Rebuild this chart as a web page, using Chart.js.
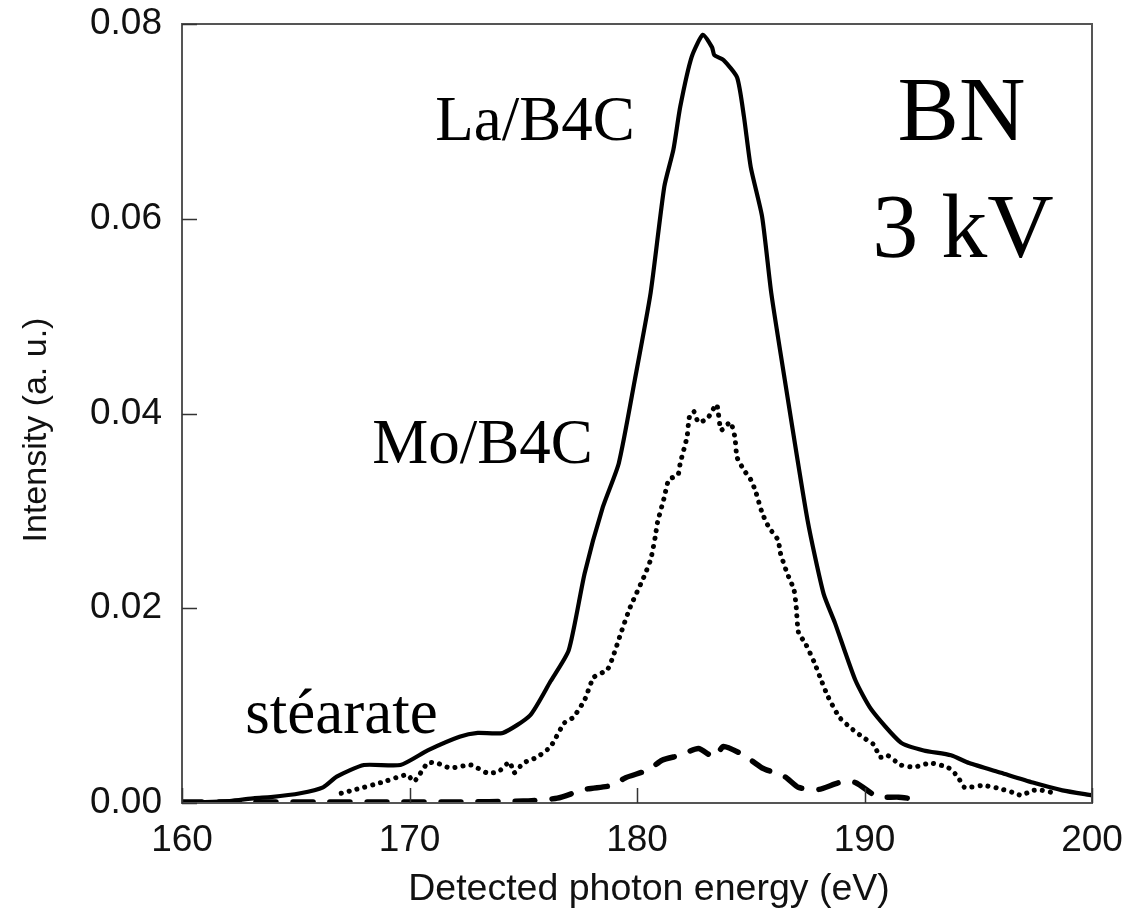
<!DOCTYPE html>
<html>
<head>
<meta charset="utf-8">
<script src="https://cdn.jsdelivr.net/npm/chart.js@4.4.1/dist/chart.umd.min.js"></script>
<style>
html,body{margin:0;padding:0;background:#fff;}
#wrap{width:1126px;height:920px;}
</style>
</head>
<body>
<div id="wrap"><canvas id="c" width="1126" height="920"></canvas></div>
<script>
// ---- data ----
const laX = [160, 161, 162.1, 163.2, 163.9, 165.2, 166.2, 166.8, 168.0, 169.6, 170.8, 172.2, 173.0, 174.1, 175.3, 176.2, 177.0, 177.7, 178.5, 179.2, 179.9, 180.6, 181.2, 181.6, 181.9, 182.4, 182.9, 183.3, 183.4, 183.8, 184.4, 184.7, 185.0, 185.5, 185.9, 186.5, 187.5, 188.2, 188.7, 189.6, 190.3, 191.6, 192.6, 193.8, 194.6, 196.0, 197.4, 198.7, 200];
const laY = [0.0001, 0.0001, 0.0002, 0.0005, 0.0006, 0.001, 0.0016, 0.0027, 0.0039, 0.0039, 0.0054, 0.0068, 0.0072, 0.0072, 0.009, 0.0125, 0.0157, 0.0236, 0.0304, 0.0349, 0.0434, 0.0524, 0.0633, 0.0671, 0.0715, 0.0766, 0.0789, 0.0776, 0.0768, 0.0763, 0.0745, 0.0705, 0.0653, 0.0602, 0.0524, 0.0434, 0.029, 0.0215, 0.0185, 0.0126, 0.0096, 0.0062, 0.0054, 0.0049, 0.0041, 0.0031, 0.0021, 0.0013, 0.0008];

const moX = [167.0, 167.5, 168.9, 169.9, 170.2, 170.8, 171.2, 171.8, 172.7, 173.4, 173.9, 174.4, 174.6, 175.0, 175.6, 176.2, 176.8, 177.2, 177.7, 178.1, 178.7, 179.0, 179.3, 179.7, 180.3, 180.6, 180.8, 180.9, 181.2, 181.4, 181.8, 181.9, 182.2, 182.3, 182.5, 182.7, 183.1, 183.5, 183.7, 184.1, 184.3, 184.4, 184.7, 185.0, 185.2, 185.5, 185.8, 186.2, 186.3, 186.6, 186.9, 187.0, 187.1, 187.4, 187.8, 188.1, 188.4, 188.9, 189.4, 189.9, 190.4, 190.7, 191.0, 191.6, 192.2, 192.9, 193.7, 194.1, 194.4, 195.2, 195.9, 196.5, 196.9, 197.4, 197.8, 198.4];
const moY = [0.001, 0.0013, 0.0022, 0.0029, 0.0022, 0.0041, 0.0041, 0.0036, 0.0039, 0.0031, 0.0032, 0.0042, 0.0031, 0.0041, 0.0047, 0.0058, 0.0082, 0.0088, 0.0106, 0.0129, 0.0137, 0.0154, 0.0175, 0.0201, 0.0232, 0.025, 0.0273, 0.0288, 0.0314, 0.0332, 0.0337, 0.0349, 0.0376, 0.0396, 0.0402, 0.0391, 0.0395, 0.0409, 0.0383, 0.0391, 0.0376, 0.0355, 0.0342, 0.0332, 0.0321, 0.0298, 0.0283, 0.027, 0.0257, 0.0236, 0.0219, 0.0201, 0.0175, 0.0164, 0.0144, 0.0126, 0.0109, 0.0088, 0.0077, 0.0068, 0.006, 0.0047, 0.0049, 0.0039, 0.0037, 0.0041, 0.0036, 0.0027, 0.0016, 0.0018, 0.0015, 0.0011, 0.0008, 0.0013, 0.0013, 0.001];

const stX = [160, 163, 166, 169, 172, 175, 176.5, 177.7, 178.9, 179.5, 180.5, 181.1, 181.9, 182.7, 183.4, 183.8, 184.7, 185.5, 186.5, 187.1, 188.0, 188.9, 189.6, 190.3, 190.6, 191.5, 192.2];
const stY = [0.0001, 0.0001, 0.0001, 0.0001, 0.0001, 0.0002, 0.0005, 0.0014, 0.0018, 0.0026, 0.0034, 0.0044, 0.0049, 0.0056, 0.0047, 0.0058, 0.0049, 0.0036, 0.0027, 0.0016, 0.0014, 0.0021, 0.0021, 0.001, 0.0006, 0.0006, 0.0004];

const xTicks = [160, 170, 180, 190, 200];
const yTicks = [0, 0.02, 0.04, 0.06, 0.08];
const yTickLabels = ['0.00', '0.02', '0.04', '0.06', '0.08'];
const xTitle = 'Detected photon energy (eV)';
const yTitle = 'Intensity (a. u.)';

// annotation texts anchored in data coordinates
const annTexts = ['La/B4C', 'Mo/B4C', 'stéarate', 'BN', '3 kV'];
const annX = [175.52, 173.21, 167.01, 194.26, 194.33];
const annY = [0.0681, 0.0349, 0.00719, 0.0681, 0.0561];
const annSize = [63, 63, 63, 92, 92];

const pts = (xs, ys) => xs.map((x, i) => ({x: x, y: ys[i]}));

const sansFont = "'Liberation Sans', Arial, sans-serif";
const serifFont = "'Liberation Serif', 'Times New Roman', serif";

const framePlugin = {
  id: 'frame',
  afterDraw(chart) {
    const {ctx, chartArea: a, scales} = chart;
    ctx.save();
    // frame
    ctx.strokeStyle = '#555';
    ctx.lineWidth = 2;
    ctx.strokeRect(a.left, a.top, a.right - a.left, a.bottom - a.top);
    // inner ticks
    ctx.strokeStyle = '#333';
    ctx.lineWidth = 1.5;
    ctx.beginPath();
    xTicks.forEach(v => {
      const px = Math.round(scales.x.getPixelForValue(v)) + 0.5;
      ctx.moveTo(px, a.bottom);
      ctx.lineTo(px, a.bottom - 15);
    });
    yTicks.forEach(v => {
      const py = Math.round(scales.y.getPixelForValue(v)) + 0.5;
      ctx.moveTo(a.left, py);
      ctx.lineTo(a.left + 15, py);
    });
    ctx.stroke();
    // axis titles
    ctx.fillStyle = '#111';
    ctx.textAlign = 'center';
    ctx.textBaseline = 'alphabetic';
    ctx.font = "37.5px " + sansFont;
    ctx.fillText(xTitle, 649, 900);
    ctx.save();
    ctx.font = "34px " + sansFont;
    ctx.translate(46, 430);
    ctx.rotate(-Math.PI / 2);
    ctx.fillText(yTitle, 0, 0);
    ctx.restore();
    // annotations
    ctx.fillStyle = '#000';
    annTexts.forEach((t, i) => {
      ctx.font = annSize[i] + "px " + serifFont;
      ctx.fillText(t, scales.x.getPixelForValue(annX[i]), scales.y.getPixelForValue(annY[i]));
    });
    ctx.restore();
  }
};

new Chart(document.getElementById('c'), {
  type: 'line',
  data: {
    datasets: [
      {label: 'La/B4C', data: pts(laX, laY), borderColor: '#000', borderWidth: 4.2, pointRadius: 0, tension: 0.2, borderJoinStyle: 'round', borderCapStyle: 'round'},
      {label: 'Mo/B4C', data: pts(moX, moY), borderColor: '#000', borderWidth: 5, pointRadius: 0, tension: 0.2, borderDash: [0.1, 8], borderCapStyle: 'round'},
      {label: 'stéarate', data: pts(stX, stY), borderColor: '#000', borderWidth: 5.5, pointRadius: 0, tension: 0.2, borderDash: [20, 17], borderCapStyle: 'round'}
    ]
  },
  options: {
    responsive: false,
    animation: false,
    layout: {padding: {left: 0, top: 24, right: 34, bottom: 0}},
    plugins: {legend: {display: false}, tooltip: {enabled: false}},
    scales: {
      x: {
        type: 'linear', min: 160, max: 200,
        afterBuildTicks: s => { s.ticks = xTicks.map(v => ({value: v})); },
        afterFit: s => { s.height = 117; s.paddingLeft = 0; s.paddingRight = 0; },
        grid: {display: false},
        border: {display: false},
        ticks: {color: '#111', font: {family: sansFont, size: 37}, padding: 8, maxRotation: 0, callback: v => String(v)}
      },
      y: {
        type: 'linear', min: 0, max: 0.08,
        afterBuildTicks: s => { s.ticks = yTicks.map(v => ({value: v})); },
        afterFit: s => { s.width = 182; s.paddingTop = 0; s.paddingBottom = 0; },
        grid: {display: false},
        border: {display: false},
        ticks: {color: '#111', font: {family: sansFont, size: 37}, padding: 12,
          callback: (v) => { const i = yTicks.findIndex(t => Math.abs(t - v) < 1e-9); return i >= 0 ? yTickLabels[i] : ''; }}
      }
    }
  },
  plugins: [framePlugin]
});
</script>
</body>
</html>
